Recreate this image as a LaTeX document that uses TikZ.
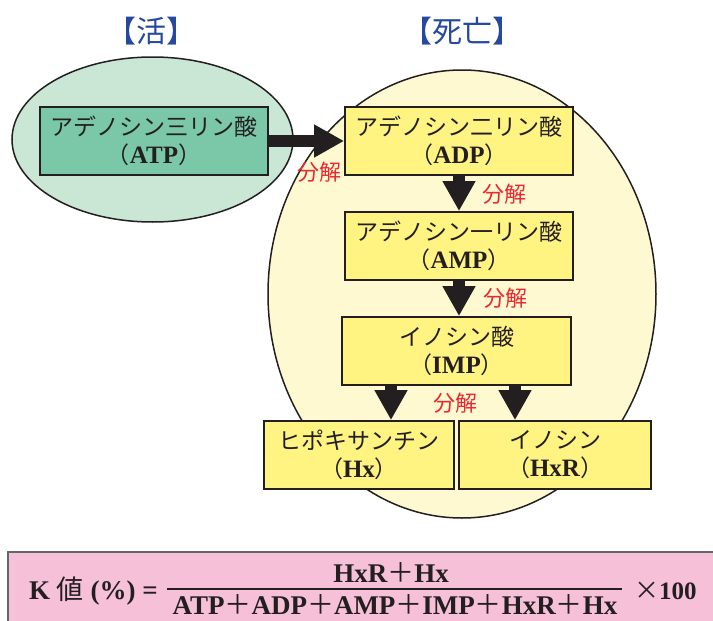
\documentclass[tikz,border=0pt]{standalone}
\usepackage{fontspec}
\setmainfont{Liberation Serif}
\newfontfamily\cjk{Noto Sans CJK JP}
\usetikzlibrary{arrows.meta}
\definecolor{titleblue}{RGB}{38,72,158}
\definecolor{greenbg}{RGB}{202,230,212}
\definecolor{greenbox}{RGB}{122,200,168}
\definecolor{yellowbg}{RGB}{255,249,210}
\definecolor{yellowbox}{RGB}{255,243,130}
\definecolor{pinkbg}{RGB}{246,192,217}
\definecolor{ink}{RGB}{35,31,32}
\definecolor{redlab}{RGB}{232,40,50}
\newcommand{\abbr}[1]{{\cjk （}{\bfseries\fontsize{25}{28}\selectfont #1}{\cjk ）}}
\begin{document}
\begin{tikzpicture}[x=1pt,y=-1pt,
  title/.style={text=titleblue,font=\cjk\fontsize{30}{32}\selectfont},
  cbox/.style={draw=ink,line width=1.8pt,minimum height=68pt,inner sep=0pt,
    align=center,text=ink,font=\fontsize{23}{28}\selectfont},
  blob/.style={draw=ink,line width=1.5pt},
  bigarrow/.style={draw=ink,line width=12pt,-{Triangle[length=30pt,width=31pt]},fill=ink},
  redlabel/.style={text=redlab,font=\cjk\fontsize{22}{24}\selectfont,inner sep=0pt},
  formula/.style={text=ink,font=\bfseries\fontsize{27}{30}\selectfont,inner sep=0pt}]
\clip (0,0) rectangle (713,621);
% titles
\node[title] (tlive) at (151,31) {\kern-0.45em【活】\kern-0.45em};
\node[title] (tdead) at (462,31) {\kern-0.45em【死亡】\kern-0.45em};
% ellipses
\draw[blob,fill=yellowbg] (462,294) ellipse [x radius=194, y radius=224];
\draw[blob,fill=greenbg] (152.5,139.5) ellipse [x radius=140.5, y radius=82.5];
% boxes
\node[cbox,fill=greenbox,minimum width=228pt] (atp) at (154,141)
  {{\cjk アデノシン三リン酸}\\\abbr{ATP}};
\node[cbox,fill=yellowbox,minimum width=228pt] (adp) at (459,141)
  {{\cjk アデノシン二リン酸}\\\abbr{ADP}};
\node[cbox,fill=yellowbox,minimum width=228pt] (amp) at (459,246)
  {{\cjk アデノシン一リン酸}\\\abbr{AMP}};
\node[cbox,fill=yellowbox,minimum width=229pt] (imp) at (456.5,351)
  {{\cjk イノシン酸}\\\abbr{IMP}};
\node[cbox,fill=yellowbox,minimum width=190pt] (hx) at (359,455)
  {{\cjk ヒポキサンチン}\\\abbr{Hx}};
\node[cbox,fill=yellowbox,minimum width=192pt] (hxr) at (555,455)
  {{\cjk イノシン}\\\abbr{HxR}};
% arrows
\coordinate (la) at (391,0);
\coordinate (ra) at (515,0);
\draw[bigarrow] (atp.east) -- (adp.west);
\draw[bigarrow] (adp.south) -- (amp.north);
\draw[bigarrow] (amp.south) -- (amp.south |- imp.north);
\draw[bigarrow] (imp.south -| la) -- (hx.north -| la);
\draw[bigarrow] (imp.south -| ra) -- (hxr.north -| ra);
% labels
\node[redlabel] (d1) at (319,172) {分解};
\node[redlabel] (d2) at (504,194) {分解};
\node[redlabel] (d3) at (505,298) {分解};
\node[redlabel] (d4) at (455,403) {分解};
% formula box
\draw[draw=gray!80!black,line width=1.2pt,fill=pinkbg] (8,552) rectangle (730,640);
\node[formula,anchor=base east] (klab) at (158,599) {K {\mdseries\cjk 値} (\%) =};
\node[formula,anchor=base] (num) at (391,582) {HxR{\mdseries\cjk ＋}Hx};
\node[formula,anchor=base] (den) at (395,614) {ATP{\mdseries\cjk ＋}ADP{\mdseries\cjk ＋}AMP{\mdseries\cjk ＋}IMP{\mdseries\cjk ＋}HxR{\mdseries\cjk ＋}Hx};
\draw[ink,line width=1.5pt] (167,589) -- (622,589);
\node[formula,anchor=base west,font=\bfseries\fontsize{25}{28}\selectfont] (times) at (634,599) {{\mdseries\cjk ×}100};
\end{tikzpicture}
\end{document}
